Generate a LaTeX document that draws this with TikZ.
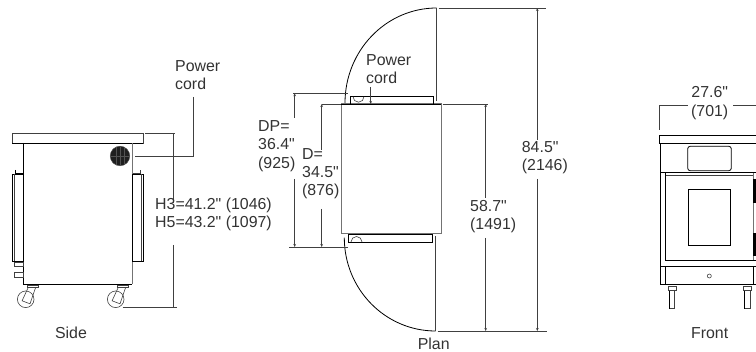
\documentclass[tikz,border=0pt]{standalone}
\usepackage{fontspec}
\setmainfont[Ligatures=TeXOff]{Liberation Sans}
\usetikzlibrary{arrows.meta}
\definecolor{inkgray}{HTML}{333333}
\tikzset{
part/.style={draw=black,line width=0.8pt},
thin part/.style={draw=black!75,line width=0.6pt},
soft part/.style={draw=black!55,line width=1pt},
heavy/.style={draw=black,line width=1.5pt},
dim/.style={draw=black!75,line width=0.75pt},
tip/.style={dim,-{Stealth[length=3pt,width=2.6pt]}},
label/.style={font=\fontsize{15.9}{18.2}\selectfont,text=inkgray,inner sep=0pt,align=left},
caster/.pic={
\draw[thin part] (0,0) circle (8.3);
\draw[thin part] (2.6,-12)--(-3.6,1.5)--(4.3,4.5)--(10,-12);
\draw[thin part,fill=white] (1.3,-14.3) rectangle (12.3,-11.8);
},
leg/.pic={
\draw[thin part,fill=white] (-4,0) rectangle (4,4);
\draw[thin part] (-2.7,4) rectangle (2.7,22);
\draw[part] (-2.7,4)--(-2.7,22);
}
}
\begin{document}
\begin{tikzpicture}[x=1pt,y=-1pt]
\useasboundingbox (0,0) rectangle (756,352);
\draw[thin part] (12,133) rectangle (143,143);
\draw[part] (12,143)--(143,143);
\draw[part] (23.7,143)--(23.7,284)--(132,284);
\draw[soft part] (132,143)--(132,284);
\draw[part] (12.3,174) rectangle (23.7,261);
\draw[thin part] (14.5,174)--(14.5,261);
\draw[part] (15,170)--(15,173)--(23.7,173);
\draw[part] (132,174) rectangle (143.7,261);
\draw[thin part] (141,174)--(141,261);
\draw[thin part] (133,173)--(140,173)--(140,170);
\draw[thin part] (14.5,262.7) rectangle (23.7,266.7);
\draw[thin part] (14.5,272.7) rectangle (23.7,277);
\filldraw[fill=black!88,draw=black!70] (120,156) circle (9.8);
\foreach \gx in {116,120,124} \draw[black!68,line width=0.3pt] (\gx,147)--(\gx,165);
\draw[black!68,line width=0.3pt] (111,156)--(129,156);
\pic at (25.7,299.3) {caster};
\pic at (115.7,299.3) {caster};
\coordinate (sidetop) at (145,133);
\coordinate (sidetopend) at (175,133);
\coordinate (sideup) at (173,133);
\coordinate (sideupend) at (173,203);
\coordinate (sidedownend) at (173,245);
\coordinate (sidedown) at (173,307);
\coordinate (sidebot) at (122.7,307);
\coordinate (sidebotend) at (176.7,307);
\draw[dim] (sidetop)--(sidetopend);
\draw[dim] (sideup)--(sideupend);
\draw[dim] (sidedownend)--(sidedown);
\draw[dim] (sidebot)--(sidebotend);
\node[label,anchor=west] (cordside) at (175,75) {Power\\cord};
\coordinate (cordsideend) at (135,156);
\draw[dim] (193,97)|-(cordsideend);
\node[label,anchor=west] (height) at (155,214.5) {H3=41.2" (1046)\\H5=43.2" (1097)};
\node[label] (side) at (71,333) {Side};
\draw[soft part] (341,104) rectangle (441.3,234);
\draw[part] (341,104)--(441.3,104);
\draw[part] (350.3,96.7) rectangle (433.7,104);
\draw[part] (348.7,234) rectangle (432.7,242);
\draw[heavy] (348.7,234.6)--(432.7,234.6);
\draw[thin part] (353,96.7) arc[start angle=180,end angle=0,radius=5.5];
\draw[thin part] (351,242) arc[start angle=180,end angle=360,radius=5.5];
\draw[part] (345,103) arc[start angle=180,end angle=90,x radius=91.7,y radius=-95];
\draw[part] (344.3,237.7) arc[start angle=180,end angle=270,x radius=91.4,y radius=-93.3];
\draw[dim] (436.7,8)--(436.7,101);
\draw[dim] (435.7,236)--(435.7,331);
\coordinate (fulltop) at (438.7,8);
\coordinate (fulltopend) at (546,8);
\coordinate (fullup) at (537.3,8);
\coordinate (fullupend) at (537.3,140);
\coordinate (fulldownend) at (537.3,179);
\coordinate (fulldown) at (537.3,331);
\coordinate (fullbot) at (437.7,331);
\coordinate (fullbotend) at (546.7,331);
\draw[dim] (fulltop)--(fulltopend);
\draw[dim] (fullbot)--(fullbotend);
\draw[tip] (fullupend)--(fullup);
\draw[tip] (fulldownend)--(fulldown);
\coordinate (closedtop) at (442.7,104);
\coordinate (closedtopend) at (488,104);
\coordinate (closedup) at (485.7,104);
\coordinate (closedupend) at (485.7,198);
\coordinate (closeddownend) at (485.7,238);
\coordinate (closeddown) at (485.7,331);
\draw[dim] (closedtop)--(closedtopend);
\draw[tip] (closedupend)--(closedup);
\draw[tip] (closeddownend)--(closeddown);
\coordinate (dptop) at (293,93.3);
\coordinate (dptopend) at (347.7,93.3);
\coordinate (dpup) at (294.7,93.3);
\coordinate (dpupend) at (294.7,118);
\coordinate (dpdownend) at (294.7,179);
\coordinate (dpdown) at (294.7,247);
\coordinate (dpbot) at (289.3,247);
\coordinate (dpbotend) at (347.7,247);
\draw[dim] (dptop)--(dptopend);
\draw[dim] (dpbot)--(dpbotend);
\draw[tip] (dpupend)--(dpup);
\draw[tip] (dpdownend)--(dpdown);
\coordinate (dtop) at (321.7,104);
\coordinate (dtopend) at (341,104);
\coordinate (dupend) at (321.7,150);
\coordinate (ddownend) at (321.7,209);
\coordinate (ddown) at (321.7,247);
\draw[dim] (dtop)--(dtopend);
\draw[tip] (dupend)--(dtop);
\draw[tip] (ddownend)--(ddown);
\node[label,anchor=west] (cordplan) at (366,69.5) {Power\\cord};
\coordinate (cordplanstart) at (370.7,87);
\coordinate (cordplanend) at (370.7,104);
\draw[tip] (cordplanstart)--(cordplanend);
\node[label,anchor=west] (dp) at (258,146) {DP=\\36.4"\\(925)};
\node[label,anchor=west] (d) at (302,173.5) {D=\\34.5"\\(876)};
\node[label,anchor=west] (full) at (521.7,157.5) {84.5"\\(2146)};
\node[label,anchor=west] (closed) at (470,216.5) {58.7"\\(1491)};
\node[label] (plan) at (433.7,344) {Plan};
\node[label,align=center] (width) at (709.7,103) {27.6"\\(701)};
\coordinate (widthleft) at (659.7,105);
\coordinate (widthleftend) at (688,105);
\coordinate (widthright) at (733,105);
\coordinate (widthrightend) at (756,105);
\coordinate (widthtick) at (659.7,130);
\draw[dim] (widthtick)--(widthleft)--(widthleftend);
\draw[dim] (widthright)--(widthrightend);
\draw[part] (756,135.7)--(659.7,135.7)--(659.7,143.3)--(756,143.3);
\draw[part] (660.3,143.3)--(660.3,284.7)--(756,284.7);
\draw[part,rounded corners=2.5pt] (687.7,146.3) rectangle (731.3,170.7);
\draw[part] (660.3,172.7)--(756,172.7);
\draw[thin part] (665,175)--(753.7,175);
\draw[part] (665,172.7)--(665,260.7);
\draw[soft part] (753.7,172.7)--(753.7,260.7);
\draw[part] (688.3,189.3) rectangle (730,245.7);
\draw[heavy] (754.2,180)--(756,180)--(756,202.7)--(754.2,202.7)--cycle;
\draw[heavy] (754.2,233.3)--(756,233.3)--(756,255.3)--(754.2,255.3)--cycle;
\draw[heavy] (665,260.7)--(756,260.7);
\draw[heavy] (660.3,266.7)--(756,266.7);
\draw[part] (665.7,266.7)--(665.7,284.7);
\draw[part] (753.7,266.7)--(753.7,284.7);
\draw[thin part] (709.3,276) circle (2);
\pic at (672,286.7) {leg};
\pic at (747.3,286.7) {leg};
\node[label] (front) at (709.7,333) {Front};
\end{tikzpicture}
\end{document}
